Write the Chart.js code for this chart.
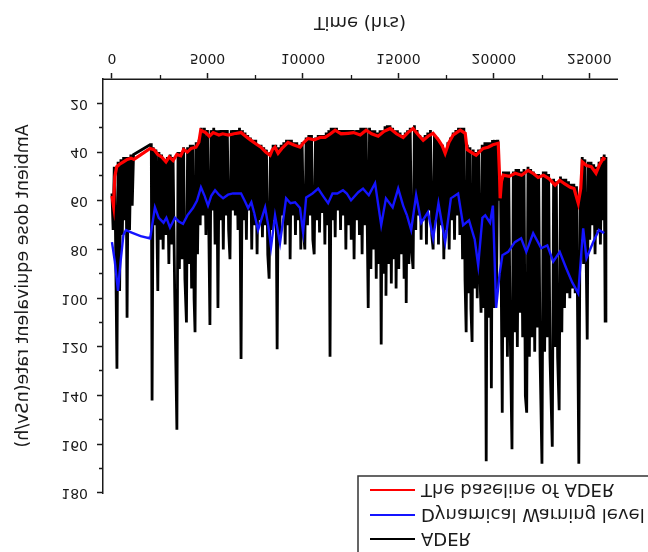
<!DOCTYPE html>
<html>
<head>
<meta charset="utf-8">
<script src="https://cdn.jsdelivr.net/npm/chart.js@4.4.1/dist/chart.umd.min.js"></script>
<style>
  html, body { margin: 0; padding: 0; background: #fff; }
  /* the reference figure is mirrored top-to-bottom */
  #wrap { width: 648px; height: 552px; transform: scaleY(-1); }
</style>
</head>
<body>
<div id="wrap"><canvas id="chartCanvas" width="648" height="552"></canvas></div>
<script>
  // === Data ===
  const baselineHours = [0, 80, 150, 250, 400, 600, 800, 1000, 1150, 2000,
    2200, 2400, 2600, 2830, 3000, 3200, 3400, 3600, 3750, 3950,
    4150, 4400, 4550, 4650, 4900, 5100, 5300, 5600, 5800, 6100,
    6400, 6760, 7000, 7250, 7490, 7800, 8050, 8280, 8400, 8540,
    8700, 8900, 9220, 9500, 9850, 10050, 10270, 10600, 10900, 11160,
    11450, 11690, 12000, 12370, 12650, 13000, 13310, 13600, 13940, 14250,
    14570, 14900, 15250, 15500, 15770, 16050, 16300, 16550, 16820, 17100,
    17300, 17450, 17650, 17870, 18050, 18240, 18500, 18600, 18800, 19070,
    19300, 19440, 19700, 19950, 20230, 20300, 20330, 20400, 20490, 20800,
    21120, 21450, 21800, 22100, 22320, 22600, 22900, 23210, 23450, 23700,
    24000, 24200, 24420, 24550, 24630, 24850, 25100, 25350, 25550, 25730,
    25850];
  const baselineRate = [58, 62, 50, 46, 45, 44, 43, 42.5, 43, 38.5,
    39, 41, 42, 44, 42, 43.5, 41, 41.5, 39, 40,
    38.5, 38, 36, 31, 32, 33.5, 32, 33, 32.5, 33,
    32.5, 32, 33.5, 35, 36.4, 38, 40, 41.3, 39, 38,
    40.5, 38.5, 36, 37, 38, 36, 34.4, 35, 34, 34,
    32.5, 31, 32.5, 32.3, 32, 33, 31, 32.5, 33.5, 31.5,
    30.3, 32.5, 34, 32, 30.3, 33, 35.2, 33.5, 32.3, 35,
    37.5, 40.5, 36, 33, 32, 31, 32.3, 39, 40, 41.3,
    39.5, 38.5, 38, 37, 36.4, 50, 59, 52, 49.5, 50,
    48.7, 49.5, 47.5, 49, 50.4, 49.5, 51, 53.6, 51.6, 53,
    54.5, 55, 61, 55, 44, 45.5, 46, 48.7, 45, 42.6,
    43];

  const warningHours = [0, 150, 315, 450, 600, 730, 1000, 1500, 2000, 2250,
    2450, 2700, 2850, 3040, 3300, 3500, 3720, 3950, 4240, 4450,
    4660, 4850, 5030, 5200, 5400, 5600, 5820, 6080, 6340, 6760,
    6950, 7130, 7300, 7450, 7650, 8020, 8180, 8330, 8540, 8700,
    8800, 9120, 9350, 9590, 9850, 10010, 10170, 10500, 10800, 11050,
    11320, 11550, 11800, 12100, 12300, 12520, 12900, 13150, 13450, 13780,
    14100, 14350, 14700, 14990, 15250, 15450, 15670, 15930, 16200, 16550,
    16820, 17100, 17450, 17750, 18130, 18390, 18700, 19000, 19180, 19400,
    19550, 19800, 19950, 20120, 20300, 20450, 20750, 21100, 21430, 21700,
    22060, 22480, 22800, 23110, 23450, 23790, 24100, 24420, 24680, 24850,
    25200, 25500, 25780];
  const warningRate = [77, 85, 97, 85, 74, 72, 73, 74.5, 75.5, 62.7,
    67, 69, 67, 71, 67, 68.5, 69.5, 66, 63, 60,
    54.5, 58, 62, 58, 55.7, 57.5, 59, 57.5, 57, 57,
    60, 63, 60.6, 65, 72, 62.7, 70, 79, 66, 73,
    77.4, 59, 61, 60.6, 63, 73, 58.6, 57, 55, 58,
    61, 57, 57, 55.7, 57, 59.8, 56.5, 55, 57.7, 52.8,
    70, 59, 62.7, 55, 62, 66, 72, 57.7, 69, 64.7,
    75.4, 61, 77, 59, 57, 70, 68, 76, 86.5, 67,
    66, 69, 62, 104, 90, 82.4, 81, 77, 75.4, 81,
    73.3, 79.5, 78.3, 85, 81, 87.7, 93.4, 98, 71.3, 83.6,
    77, 72, 73.3];

  const aderHours = [
    0, 60, 120, 180, 260, 320, 400, 470, 540, 610, 680, 740, 790, 850, 920, 990, 1060, 1130,
    2000, 2060, 2100, 2160, 2230, 2300, 2400, 2460, 2530, 2600,
    2680, 2750, 2830, 2900, 2980, 3050, 3120, 3200, 3280, 3400,
    3460, 3530, 3600, 3670, 3750, 3820, 3900, 3960, 4030, 4100,
    4170, 4240, 4300, 4350, 4410, 4480, 4560, 4620,
    4680, 4760, 4840, 4920, 5000, 5070, 5130, 5190, 5260, 5330,
    5400, 5480, 5550, 5620, 5690, 5760, 5830, 5900, 5970, 6040,
    6110, 6180, 6250, 6320, 6390,
    6460, 6530, 6600, 6680, 6760, 6830, 6900, 6970, 7040, 7110,
    7180, 7250, 7320, 7390, 7460, 7530, 7600, 7670, 7740, 7810,
    7880, 7950, 8020, 8090, 8160, 8230, 8300, 8370, 8440, 8510,
    8580, 8650, 8720, 8790, 8860, 8930, 9000, 9070, 9140, 9210,
    9280, 9330, 9400, 9470, 9540, 9610, 9680, 9750, 9820, 9890,
    9960, 10030, 10100, 10170, 10240, 10310, 10380, 10450, 10520, 10590,
    10660, 10730, 10800, 10870, 10940, 11010, 11080, 11150, 11220, 11290,
    11360, 11420, 11480, 11550, 11620, 11690, 11760, 11830, 11900, 11970,
    12040, 12110, 12180, 12250, 12320, 12390, 12460, 12530, 12600, 12680,
    12750, 12820, 12890,
    12960, 13030, 13100, 13170, 13240, 13310, 13420, 13490, 13560, 13630,
    13700, 13770, 13840, 13910, 13980, 14040, 14100, 14160, 14230, 14300,
    14350, 14420, 14490, 14560, 14630, 14700, 14770, 14830, 14880, 14950,
    15020, 15090, 15160, 15230, 15300, 15360, 15410, 15480, 15550, 15620,
    15690, 15770, 15840, 15910, 15980, 16050, 16120, 16190, 16260, 16330,
    16400, 16470, 16540, 16610, 16680, 16750, 16820, 16890, 16960, 17030,
    17100, 17170, 17240, 17310, 17380, 17450, 17520, 17590, 17660, 17730,
    17800, 17870, 17940, 18010, 18080, 18150, 18220, 18290, 18360, 18430,
    18490, 18550, 18610, 18680, 18750, 18800, 18860, 18920, 18990, 19060,
    19130, 19200, 19270, 19330, 19390,
    19460, 19530, 19600, 19660, 19730, 19800, 19870, 19930, 20000, 20070, 20140, 20210, 20280,
    20350, 20440, 20500, 20570, 20640, 20710, 20780, 20850, 20950, 21020,
    21090, 21160, 21230, 21300, 21370, 21440, 21510, 21580, 21650, 21720,
    21790, 21860, 21930, 22000, 22070, 22140, 22210, 22280, 22350, 22420,
    22520, 22590, 22660, 22730, 22800, 22870, 22940, 23060, 23130, 23200,
    23270, 23340, 23420, 23490, 23560, 23630, 23700, 23770, 23840, 23910,
    23980, 24050, 24120, 24190, 24260, 24330, 24450, 24520, 24570,
    24630, 24700, 24770, 24830, 24890, 24950, 25020, 25090, 25160, 25230,
    25300, 25370, 25440, 25510, 25580, 25650, 25720, 25780, 25830, 25870];
  const aderRate = [
    57, 72, 46, 70, 129, 44, 97, 43, 74, 42, 68, 42, 108, 42, 72, 41, 62, 41,
    37, 37, 142, 38, 70, 39, 97, 40, 76, 41,
    80, 43, 74, 42, 86, 41, 78, 42, 95, 154,
    40, 88, 40, 84, 38, 92, 110, 38, 86, 37,
    96, 37, 100, 114, 36, 82, 35, 70,
    30, 66, 30, 74, 31, 70, 111, 31, 64, 30,
    78, 31, 104, 31, 68, 31, 80, 31, 66, 31,
    72, 84, 31, 64, 31,
    66, 31, 72, 30, 125, 31, 68, 32, 76, 33,
    64, 34, 80, 35, 70, 35, 82, 37, 68, 37,
    75, 38, 70, 39, 82, 92, 40, 72, 37, 68,
    37, 121, 38, 74, 37, 66, 36, 78, 35, 70,
    35, 84, 35, 66, 36, 74, 36, 68, 37, 80,
    36, 72, 80, 34, 70, 33, 66, 33, 76, 82,
    34, 68, 33, 73, 33, 65, 33, 78, 32, 70,
    31, 124, 30, 68, 30, 75, 30, 64, 31, 72,
    31, 66, 31, 80, 31, 70, 31, 76, 31, 84,
    31, 68, 31,
    74, 30, 82, 30, 70, 30, 104, 30, 88, 31,
    80, 31, 92, 32, 86, 31, 119, 31, 90, 30,
    99, 29, 86, 29, 94, 30, 84, 31, 96, 31,
    88, 32, 82, 33, 92, 32, 102, 31, 86, 30,
    80, 88, 29, 72, 31, 66, 33, 76, 34, 68,
    33, 78, 32, 64, 31, 74, 80, 33, 68, 34,
    78, 36, 70, 37, 84, 39, 72, 36, 80, 34,
    68, 32, 76, 31, 66, 30, 74, 30, 84, 30,
    92, 114, 37, 98, 38, 104, 118, 39, 96, 40,
    100, 39, 90, 106, 37,
    104, 36, 167, 36, 108, 36, 137, 35, 104, 35, 98, 35, 60,
    56, 147, 48, 116, 48, 124, 48, 110, 162, 48,
    114, 47, 120, 47, 106, 48, 116, 47, 140, 147,
    46, 124, 47, 116, 48, 122, 49, 112, 49, 124,
    168, 48, 122, 48, 116, 49, 124, 161, 51, 120,
    52, 124, 146, 50, 114, 51, 104, 51, 98, 52,
    100, 53, 96, 53, 98, 54, 168, 58, 76,
    42, 86, 43, 80, 117, 44, 76, 44, 70, 45,
    82, 46, 72, 44, 78, 42, 68, 41, 110, 42];

  const xTickValues = [0, 5000, 10000, 15000, 20000, 25000];
  const xMinorTicks = [2500, 7500, 12500, 17500, 22500];
  const yTickValues = [20, 40, 60, 80, 100, 120, 140, 160, 180];
  const yMinorTicks = [30, 50, 70, 90, 110, 130, 150, 170];

  const seriesNames = ['The baseline of ADER', 'Dynamical Warning level', 'ADER'];
  const seriesColors = ['#ff0000', '#1414ff', '#000000'];

  const FONT = "'DejaVu Sans', Verdana, sans-serif";
  const INK = '#1a1a1a';

  const toPoints = (hrs, vals) => hrs.map((h, i) => ({ x: h, y: vals[i] }));

  // minor ticks on both axes (shorter than major ones)
  const minorTicks = {
    id: 'minorTicks',
    afterDraw(chart) {
      const { ctx, chartArea, scales } = chart;
      ctx.save();
      ctx.strokeStyle = INK;
      ctx.lineWidth = 1.3;
      ctx.beginPath();
      xMinorTicks.forEach(v => {
        const px = Math.round(scales.x.getPixelForValue(v)) + 0.5;
        ctx.moveTo(px, chartArea.bottom);
        ctx.lineTo(px, chartArea.bottom + 4);
      });
      yMinorTicks.forEach(v => {
        const py = Math.round(scales.y.getPixelForValue(v)) + 0.5;
        ctx.moveTo(chartArea.left, py);
        ctx.lineTo(chartArea.left - 4, py);
      });
      ctx.stroke();
      ctx.restore();
    }
  };

  // boxed legend that runs off the corner of the figure
  const boxLegend = {
    id: 'boxLegend',
    afterDraw(chart) {
      const { ctx } = chart;
      const rows = [
        { i: 2, y: 13 },
        { i: 1, y: 37 },
        { i: 0, y: 62 }
      ];
      ctx.save();
      ctx.fillStyle = '#fff';
      ctx.fillRect(358, -10, 300, 86);
      ctx.strokeStyle = '#333';
      ctx.lineWidth = 1.5;
      ctx.strokeRect(358, -10, 300, 86);
      ctx.font = `18px ${FONT}`;
      ctx.textBaseline = 'middle';
      ctx.textAlign = 'left';
      rows.forEach(r => {
        ctx.strokeStyle = seriesColors[r.i];
        ctx.lineWidth = 2;
        ctx.beginPath();
        ctx.moveTo(370, r.y);
        ctx.lineTo(415, r.y);
        ctx.stroke();
        ctx.fillStyle = INK;
        ctx.fillText(seriesNames[r.i], 421, r.y + 1);
      });
      ctx.restore();
    }
  };

  const ctx = document.getElementById('chartCanvas').getContext('2d');
  const chart = new Chart(ctx, {
    type: 'line',
    data: {
      datasets: [
        {
          label: seriesNames[0],
          data: toPoints(baselineHours, baselineRate),
          borderColor: seriesColors[0],
          borderWidth: 3.2,
          pointRadius: 0,
          tension: 0
        },
        {
          label: seriesNames[1],
          data: toPoints(warningHours, warningRate),
          borderColor: seriesColors[1],
          borderWidth: 2.4,
          pointRadius: 0,
          tension: 0
        },
        {
          label: seriesNames[2],
          data: toPoints(aderHours, aderRate),
          borderColor: seriesColors[2],
          borderWidth: 2.8,
          pointRadius: 0,
          tension: 0
        }
      ]
    },
    options: {
      responsive: false,
      animation: false,
      devicePixelRatio: 1,
      layout: { padding: { left: 0, right: 31, top: 59, bottom: 0 } },
      plugins: {
        legend: { display: false },
        tooltip: { enabled: false }
      },
      scales: {
        x: {
          type: 'linear',
          position: 'bottom',
          min: -470,
          max: 26450,
          afterBuildTicks: s => { s.ticks = xTickValues.map(v => ({ value: v })); },
          afterFit: s => { s.height = 79; },
          border: { color: INK, width: 1.5 },
          grid: { drawOnChartArea: false, tickLength: 6, tickWidth: 1.5, tickColor: INK },
          ticks: { color: INK, font: { family: FONT, size: 14 }, padding: 7, maxRotation: 0, autoSkip: false, callback: v => String(v) },
          title: { display: true, text: 'Time (hrs)', color: INK, font: { family: FONT, size: 18 }, padding: { top: 0, bottom: 11 } }
        },
        y: {
          type: 'linear',
          min: 10,
          max: 180,
          afterBuildTicks: s => { s.ticks = yTickValues.map(v => ({ value: v })); },
          afterFit: s => { s.width = 103; },
          border: { color: INK, width: 1.5 },
          grid: { drawOnChartArea: false, tickLength: 6, tickWidth: 1.5, tickColor: INK },
          ticks: { color: INK, font: { family: FONT, size: 14 }, padding: 9, autoSkip: false, callback: v => String(v) },
          title: { display: true, text: 'Ambient dose equivalent rate(nSv/h)', color: INK, font: { family: FONT, size: 17.5 }, padding: { top: 13, bottom: 0 } }
        }
      }
    },
    plugins: [minorTicks, boxLegend]
  });
</script>
</body>
</html>
